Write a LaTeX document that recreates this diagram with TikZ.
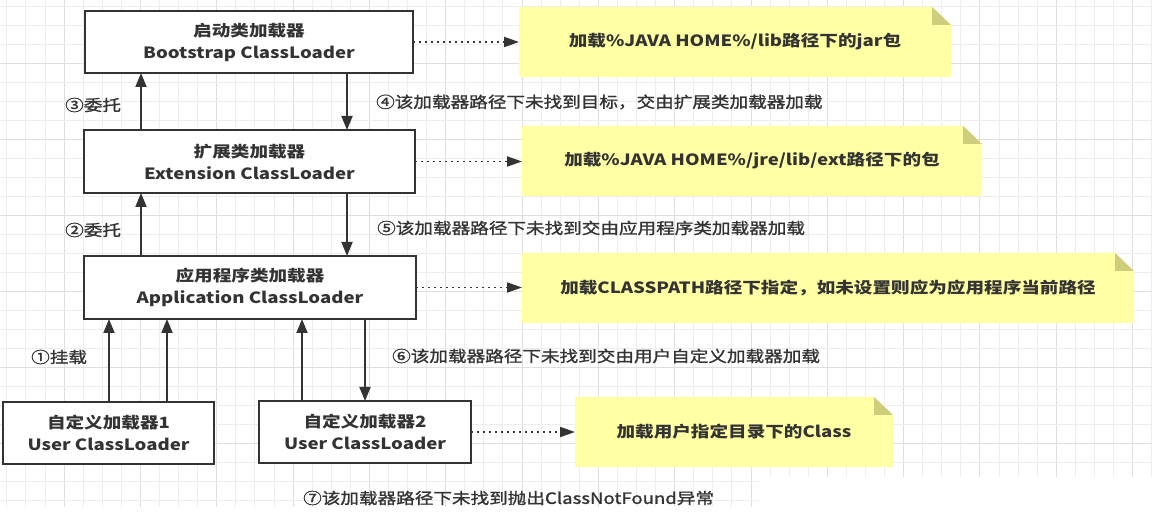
\documentclass[tikz,border=0pt]{standalone}
\usepackage{fontspec}
\setmainfont{Noto Sans CJK SC}[FakeStretch=1.2]
\newfontfamily\medfont{Noto Sans CJK SC}[FakeStretch=1.2,FakeBold=1.3]
\usetikzlibrary{arrows.meta}
\pgfdeclarelayer{gridlayer}
\pgfdeclarelayer{notelayer}
\pgfsetlayers{gridlayer,notelayer,main}
\definecolor{txt}{HTML}{333333}
\definecolor{gridminor}{HTML}{EDEDED}
\definecolor{gridmajor}{HTML}{DEDEDE}
\definecolor{notefill}{HTML}{FFFFA3}
\definecolor{foldfill}{HTML}{CDCD7C}
\tikzset{
  box/.style={draw=txt, line width=1.8pt, fill=white, inner sep=0pt, outer sep=0pt,
    align=center, text=txt, font=\bfseries\fontsize{15.5}{22}\selectfont},
  notebox/.style={inner sep=0pt, outer sep=0pt, minimum height=70pt,
    text=txt, font=\bfseries\fontsize{15.5}{22}\selectfont},
  lbl/.style={anchor=west, inner sep=0pt, text=txt, font=\medfont\fontsize{15.5}{22}\selectfont},
  arr/.style={draw=txt, line width=1.8pt, -{Triangle[length=14pt,width=11pt]}},
  dotarr/.style={draw=txt, line width=1.8pt, dash pattern=on 1.8pt off 4.2pt,
    -{Triangle[length=15pt,width=10pt]}}
}
\begin{document}
\begin{tikzpicture}[x=1pt,y=-1pt]
\useasboundingbox (0,0) rectangle (1152,518);
\begin{pgfonlayer}{gridlayer}
  \fill[white] (0,0) rectangle (1152,518);
  \begin{scope}
    \clip (0,0) rectangle (1152,477) (0,476) rectangle (759,507);
    \foreach \k in {0,...,60} {
      \pgfmathtruncatemacro{\m}{mod(\k,4)}
      \ifnum\m=3
        \draw[gridmajor, line width=1pt] ({6.9+19.08*\k},0) -- ({6.9+19.08*\k},518);
      \else
        \draw[gridminor, line width=1pt] ({6.9+19.08*\k},0) -- ({6.9+19.08*\k},518);
      \fi
    }
    \foreach \k in {0,...,27} {
      \pgfmathtruncatemacro{\m}{mod(\k,4)}
      \ifnum\m=3
        \draw[gridmajor, line width=1pt] (0,{6.7+19*\k}) -- (1152,{6.7+19*\k});
      \else
        \draw[gridminor, line width=1pt] (0,{6.7+19*\k}) -- (1152,{6.7+19*\k});
      \fi
    }
  \end{scope}
\end{pgfonlayer}

% loader boxes
\node[box, minimum width=328pt, minimum height=62pt] (boot) at (249,42) {启动类加载器\\Bootstrap ClassLoader};
\node[box, minimum width=331pt, minimum height=63pt] (ext) at (249.5,161.5) {扩展类加载器\\Extension ClassLoader};
\node[box, minimum width=332pt, minimum height=63pt] (app) at (250,287.5) {应用程序类加载器\\Application ClassLoader};
\node[box, minimum width=211pt, minimum height=62pt] (user1) at (108.5,433) {自定义加载器1\\User ClassLoader};
\node[box, minimum width=212pt, minimum height=62pt] (user2) at (365,432) {自定义加载器2\\User ClassLoader};

% notes
\node[notebox, minimum width=432pt] (n1) at (735,42) {加载\%JAVA HOME\%/lib路径下的jar包};
\node[notebox, minimum width=460pt] (n2) at (752,161) {加载\%JAVA HOME\%/jre/lib/ext路径下的包};
\node[notebox, minimum width=612pt] (n3) at (828,288) {加载CLASSPATH路径下指定，如未设置则应为应用程序当前路径};
\node[notebox, minimum width=318pt] (n4) at (734,432) {加载用户指定目录下的Class};
\begin{pgfonlayer}{notelayer}
  \foreach \n in {n1,n2,n3,n4} {
    \fill[notefill] (\n.north west) -- ([xshift=-19pt]\n.north east) -- ([yshift=-18pt]\n.north east)
      -- (\n.south east) -- (\n.south west) -- cycle;
    \fill[foldfill] ([xshift=-19pt]\n.north east) -- ([yshift=-18pt]\n.north east)
      -- ([xshift=-19pt,yshift=-18pt]\n.north east) -- cycle;
  }
\end{pgfonlayer}

% x positions of vertical connectors
\coordinate (xa) at (141,0);
\coordinate (xb) at (347,0);
\coordinate (xc) at (109,0);
\coordinate (xd) at (167,0);
\coordinate (xe) at (302,0);
\coordinate (xf) at (365,0);

\draw[arr] (ext.north -| xa) -- (boot.south -| xa);
\draw[arr] (boot.south -| xb) -- (ext.north -| xb);
\draw[arr] (app.north -| xa) -- (ext.south -| xa);
\draw[arr] (ext.south -| xb) -- (app.north -| xb);
\draw[arr] (user1.north -| xc) -- (app.south -| xc);
\draw[arr] (user1.north -| xd) -- (app.south -| xd);
\draw[arr] (user2.north -| xe) -- (app.south -| xe);
\draw[arr] (app.south -| xf) -- (user2.north -| xf);

\draw[dotarr] (boot.east) -- (n1.west);
\draw[dotarr] (ext.east) -- (ext.east -| n2.west);
\draw[dotarr] (app.east) -- (app.east -| n3.west);
\draw[dotarr] (user2.east) -- (n4.west);

% labels
\node[lbl] (l3) at (65,105) {③委托};
\node[lbl] (l4) at (376,102) {④该加载器路径下未找到目标，交由扩展类加载器加载};
\node[lbl] (l2) at (65,230) {②委托};
\node[lbl] (l5) at (377,228) {⑤该加载器路径下未找到交由应用程序类加载器加载};
\node[lbl] (l1) at (31,357) {①挂载};
\node[lbl] (l6) at (392,356) {⑥该加载器路径下未找到交由用户自定义加载器加载};
\node[lbl] (l7) at (303,498) {⑦该加载器路径下未找到抛出ClassNotFound异常};
\end{tikzpicture}
\end{document}
